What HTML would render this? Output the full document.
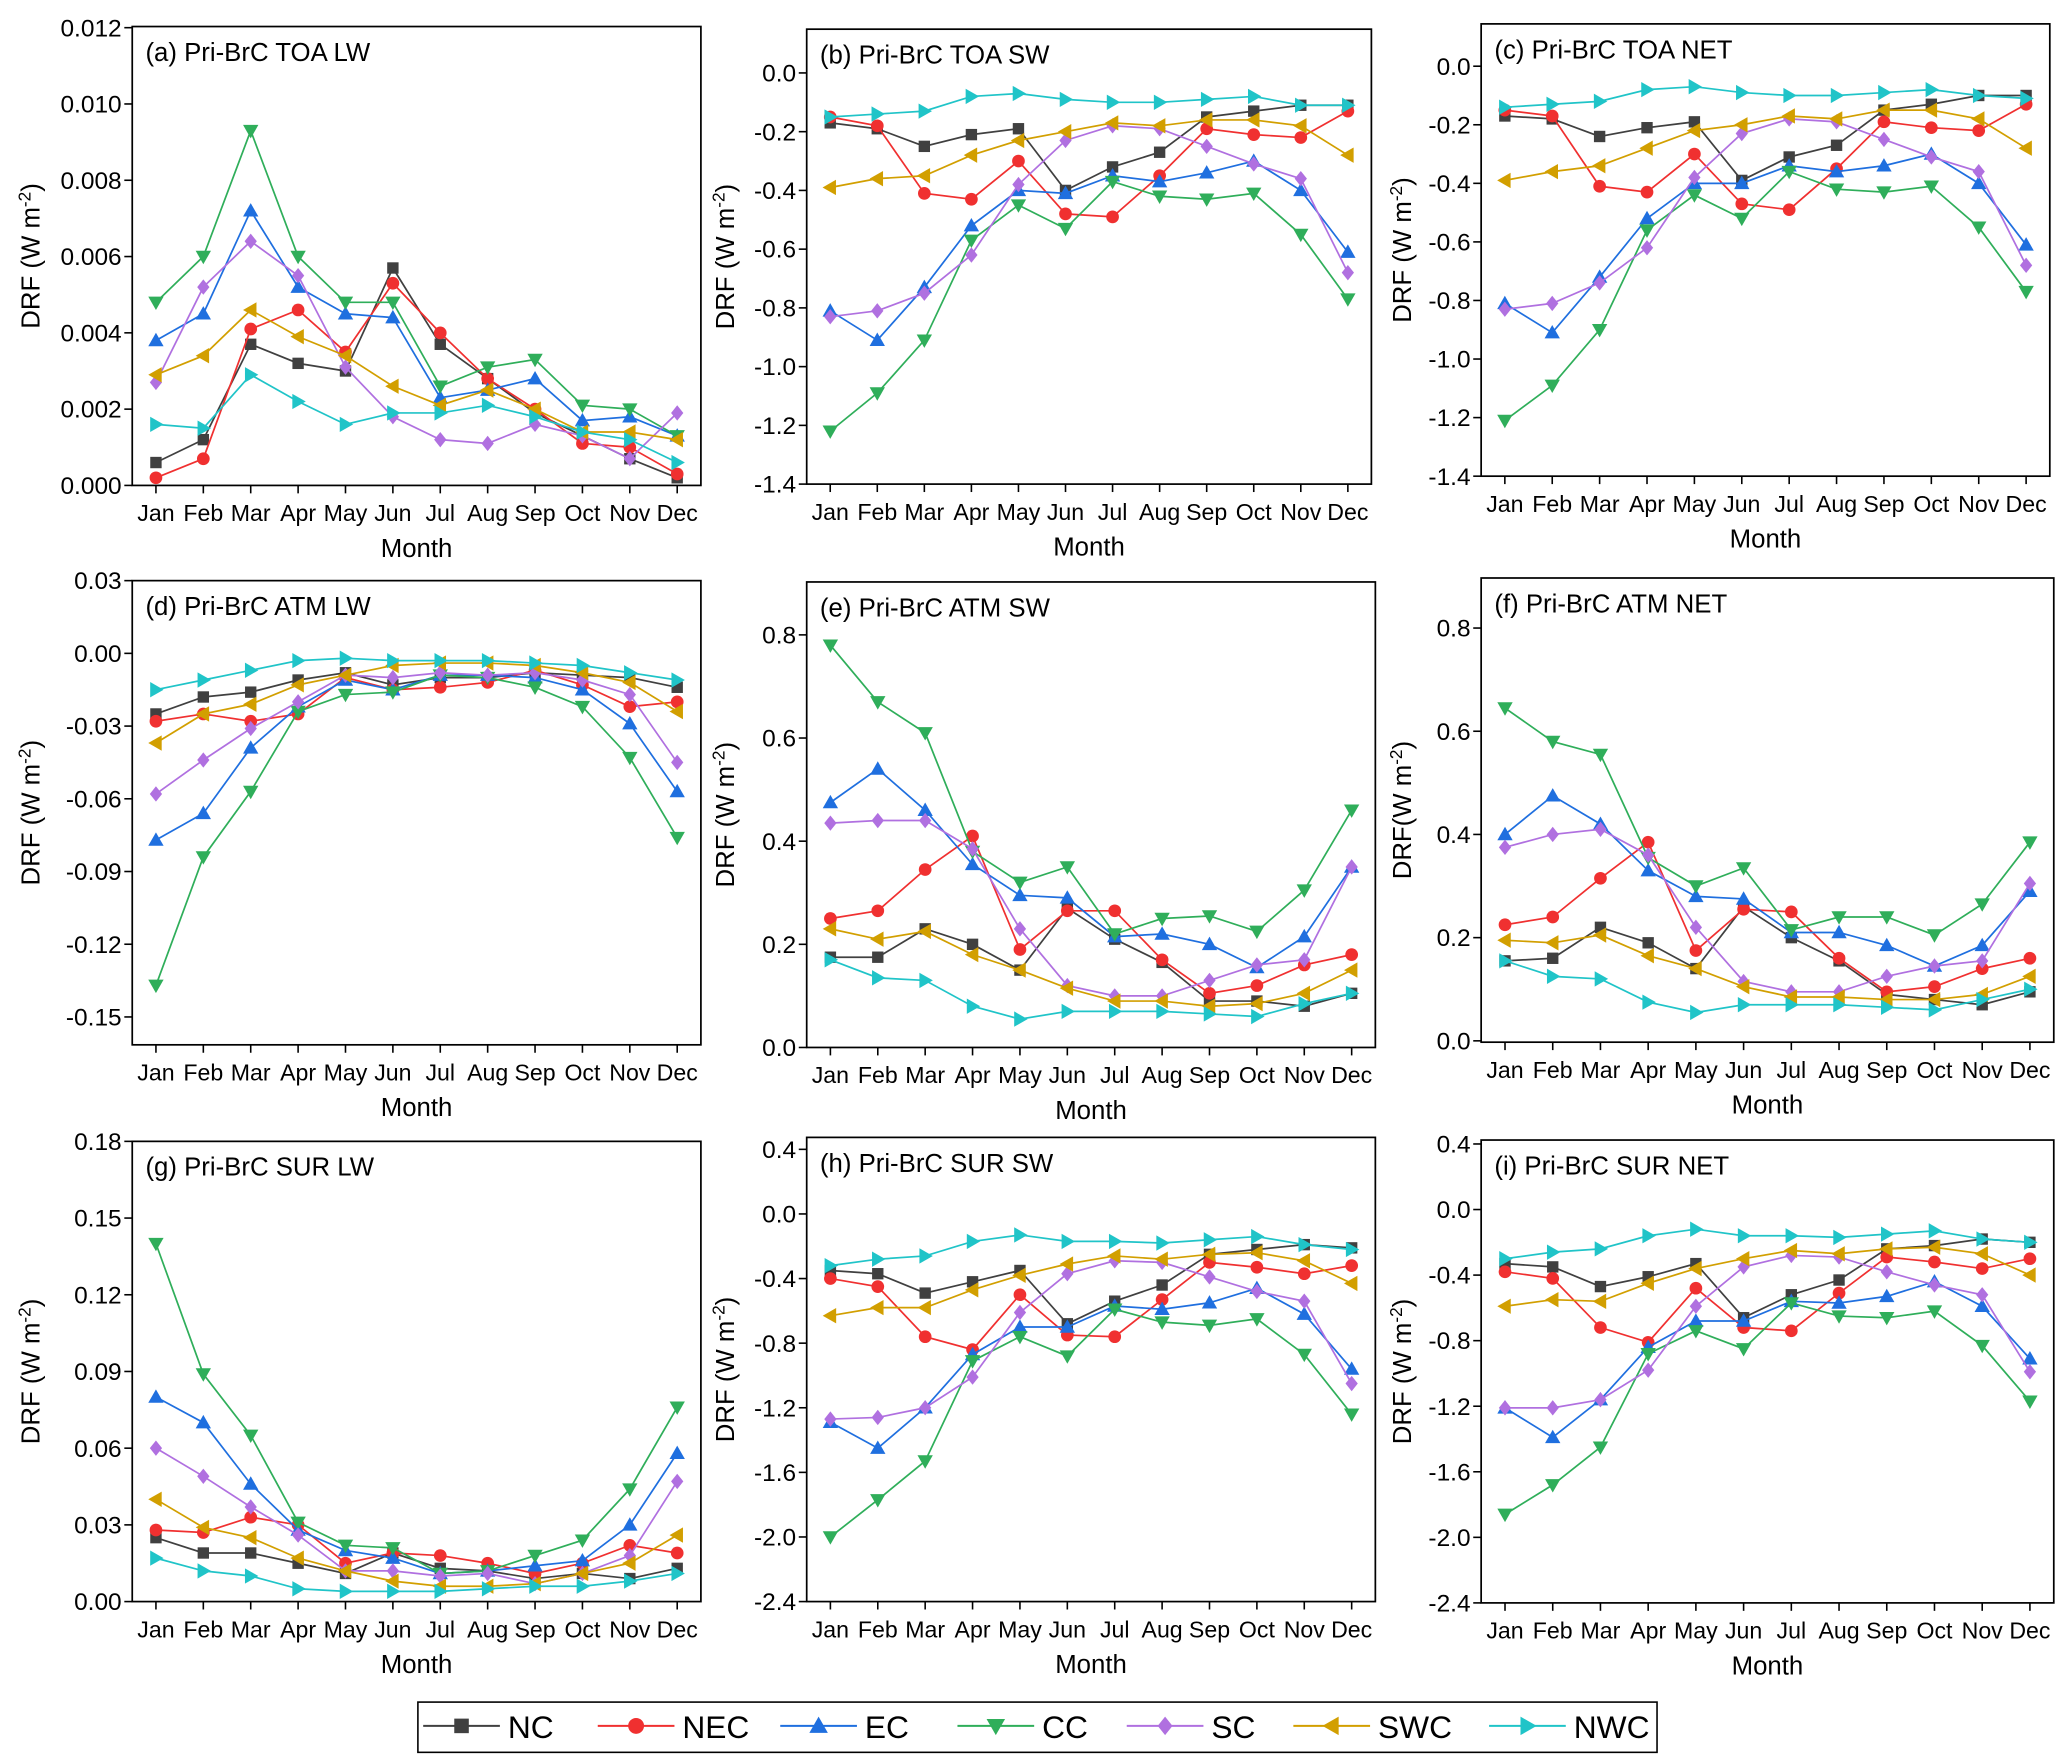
<!DOCTYPE html>
<html><head><meta charset="utf-8"><style>
html,body{margin:0;padding:0;background:#fff;}
svg{display:block;font-family:"Liberation Sans",Arial,sans-serif;}
</style></head><body>
<svg id="chart" width="2067" height="1763" viewBox="0 0 1563 1333" xmlns="http://www.w3.org/2000/svg"></svg>
<script>
const months=["Jan","Feb","Mar","Apr","May","Jun","Jul","Aug","Sep","Oct","Nov","Dec"];
const regions=["NC","NEC","EC","CC","SC","SWC","NWC"];
const colors=["#404040","#f03030","#1f6fdf","#2fae5a","#b070e0","#d29f00","#20c4c8"];
const shapes=["square","circle","up","down","diamond","left","right"];

const dataA=[[0.0006,0.0012,0.0037,0.0032,0.0030,0.0057,0.0037,0.0028,0.0019,0.0013,0.0007,0.0002],
[0.0002,0.0007,0.0041,0.0046,0.0035,0.0053,0.0040,0.0028,0.0020,0.0011,0.0010,0.0003],
[0.0038,0.0045,0.0072,0.0052,0.0045,0.0044,0.0023,0.0025,0.0028,0.0017,0.0018,0.0013],
[0.0048,0.0060,0.0093,0.0060,0.0048,0.0048,0.0026,0.0031,0.0033,0.0021,0.0020,0.0013],
[0.0027,0.0052,0.0064,0.0055,0.0031,0.0018,0.0012,0.0011,0.0016,0.0013,0.0007,0.0019],
[0.0029,0.0034,0.0046,0.0039,0.0034,0.0026,0.0021,0.0025,0.0020,0.0014,0.0014,0.0012],
[0.0016,0.0015,0.0029,0.0022,0.0016,0.0019,0.0019,0.0021,0.0018,0.0014,0.0012,0.0006]];
const dataB=[[-0.17,-0.19,-0.25,-0.21,-0.19,-0.40,-0.32,-0.27,-0.15,-0.13,-0.11,-0.11],
[-0.15,-0.18,-0.41,-0.43,-0.30,-0.48,-0.49,-0.35,-0.19,-0.21,-0.22,-0.13],
[-0.81,-0.91,-0.73,-0.52,-0.40,-0.41,-0.35,-0.37,-0.34,-0.30,-0.40,-0.61],
[-1.22,-1.09,-0.91,-0.57,-0.45,-0.53,-0.37,-0.42,-0.43,-0.41,-0.55,-0.77],
[-0.83,-0.81,-0.75,-0.62,-0.38,-0.23,-0.18,-0.19,-0.25,-0.31,-0.36,-0.68],
[-0.39,-0.36,-0.35,-0.28,-0.23,-0.20,-0.17,-0.18,-0.16,-0.16,-0.18,-0.28],
[-0.15,-0.14,-0.13,-0.08,-0.07,-0.09,-0.10,-0.10,-0.09,-0.08,-0.11,-0.11]];
const dataC=[[-0.17,-0.18,-0.24,-0.21,-0.19,-0.39,-0.31,-0.27,-0.15,-0.13,-0.10,-0.10],
[-0.15,-0.17,-0.41,-0.43,-0.30,-0.47,-0.49,-0.35,-0.19,-0.21,-0.22,-0.13],
[-0.81,-0.91,-0.72,-0.52,-0.40,-0.40,-0.34,-0.36,-0.34,-0.30,-0.40,-0.61],
[-1.21,-1.09,-0.90,-0.56,-0.44,-0.52,-0.36,-0.42,-0.43,-0.41,-0.55,-0.77],
[-0.83,-0.81,-0.74,-0.62,-0.38,-0.23,-0.18,-0.19,-0.25,-0.31,-0.36,-0.68],
[-0.39,-0.36,-0.34,-0.28,-0.22,-0.20,-0.17,-0.18,-0.15,-0.15,-0.18,-0.28],
[-0.14,-0.13,-0.12,-0.08,-0.07,-0.09,-0.10,-0.10,-0.09,-0.08,-0.10,-0.11]];
const dataD=[[-0.025,-0.018,-0.016,-0.011,-0.008,-0.013,-0.010,-0.010,-0.008,-0.009,-0.010,-0.014],
[-0.028,-0.025,-0.028,-0.025,-0.010,-0.015,-0.014,-0.012,-0.007,-0.013,-0.022,-0.020],
[-0.077,-0.066,-0.039,-0.022,-0.011,-0.015,-0.009,-0.009,-0.010,-0.015,-0.029,-0.057],
[-0.137,-0.084,-0.057,-0.024,-0.017,-0.016,-0.009,-0.010,-0.014,-0.022,-0.043,-0.076],
[-0.058,-0.044,-0.031,-0.020,-0.009,-0.010,-0.008,-0.009,-0.008,-0.011,-0.017,-0.045],
[-0.037,-0.025,-0.021,-0.013,-0.009,-0.005,-0.004,-0.004,-0.005,-0.008,-0.012,-0.024],
[-0.015,-0.011,-0.007,-0.003,-0.002,-0.003,-0.003,-0.003,-0.004,-0.005,-0.008,-0.011]];
const dataE=[[0.175,0.175,0.23,0.20,0.15,0.27,0.21,0.165,0.09,0.09,0.08,0.105],
[0.25,0.265,0.345,0.41,0.19,0.265,0.265,0.17,0.105,0.12,0.16,0.18],
[0.475,0.54,0.46,0.355,0.295,0.29,0.215,0.22,0.20,0.155,0.215,0.35],
[0.78,0.67,0.61,0.38,0.32,0.35,0.22,0.25,0.255,0.225,0.305,0.46],
[0.435,0.44,0.44,0.385,0.23,0.12,0.10,0.10,0.13,0.16,0.17,0.35],
[0.23,0.21,0.225,0.18,0.15,0.115,0.09,0.09,0.08,0.085,0.105,0.15],
[0.17,0.135,0.13,0.08,0.055,0.07,0.07,0.07,0.065,0.06,0.085,0.105]];
const dataF=[[0.155,0.16,0.22,0.19,0.14,0.26,0.20,0.155,0.09,0.08,0.07,0.095],
[0.225,0.24,0.315,0.385,0.175,0.255,0.25,0.16,0.095,0.105,0.14,0.16],
[0.40,0.475,0.42,0.33,0.28,0.275,0.21,0.21,0.185,0.145,0.185,0.29],
[0.645,0.58,0.555,0.355,0.30,0.335,0.215,0.24,0.24,0.205,0.265,0.385],
[0.375,0.40,0.41,0.36,0.22,0.115,0.095,0.095,0.125,0.145,0.155,0.305],
[0.195,0.19,0.205,0.165,0.14,0.105,0.085,0.085,0.08,0.08,0.09,0.125],
[0.155,0.125,0.12,0.075,0.055,0.07,0.07,0.07,0.065,0.06,0.08,0.10]];
const dataG=[[0.025,0.019,0.019,0.015,0.011,0.019,0.013,0.012,0.009,0.011,0.009,0.013],
[0.028,0.027,0.033,0.030,0.015,0.019,0.018,0.015,0.011,0.015,0.022,0.019],
[0.080,0.070,0.046,0.028,0.020,0.017,0.011,0.012,0.014,0.016,0.030,0.058],
[0.140,0.089,0.065,0.031,0.022,0.021,0.011,0.012,0.018,0.024,0.044,0.076],
[0.060,0.049,0.037,0.026,0.012,0.012,0.010,0.011,0.007,0.011,0.018,0.047],
[0.040,0.029,0.025,0.017,0.012,0.008,0.006,0.006,0.007,0.011,0.015,0.026],
[0.017,0.012,0.010,0.005,0.004,0.004,0.004,0.005,0.006,0.006,0.008,0.011]];
const dataH=[[-0.35,-0.37,-0.49,-0.42,-0.35,-0.68,-0.54,-0.44,-0.25,-0.22,-0.19,-0.21],
[-0.40,-0.45,-0.76,-0.84,-0.50,-0.75,-0.76,-0.53,-0.30,-0.33,-0.37,-0.32],
[-1.29,-1.45,-1.20,-0.87,-0.70,-0.70,-0.57,-0.59,-0.55,-0.46,-0.62,-0.96],
[-2.00,-1.77,-1.53,-0.91,-0.76,-0.88,-0.59,-0.67,-0.69,-0.65,-0.87,-1.24],
[-1.27,-1.26,-1.20,-1.01,-0.61,-0.37,-0.29,-0.30,-0.39,-0.48,-0.54,-1.05],
[-0.63,-0.58,-0.58,-0.47,-0.38,-0.31,-0.26,-0.28,-0.25,-0.24,-0.29,-0.43],
[-0.32,-0.28,-0.26,-0.17,-0.13,-0.17,-0.17,-0.18,-0.16,-0.14,-0.19,-0.22]];
const dataI=[[-0.33,-0.35,-0.47,-0.41,-0.33,-0.66,-0.52,-0.43,-0.24,-0.22,-0.18,-0.20],
[-0.38,-0.42,-0.72,-0.81,-0.48,-0.72,-0.74,-0.51,-0.29,-0.32,-0.36,-0.30],
[-1.21,-1.39,-1.16,-0.84,-0.68,-0.68,-0.56,-0.57,-0.53,-0.44,-0.59,-0.91],
[-1.86,-1.68,-1.45,-0.88,-0.74,-0.85,-0.57,-0.65,-0.66,-0.62,-0.83,-1.17],
[-1.21,-1.21,-1.16,-0.98,-0.59,-0.35,-0.28,-0.29,-0.38,-0.46,-0.52,-0.99],
[-0.59,-0.55,-0.56,-0.45,-0.36,-0.30,-0.25,-0.27,-0.24,-0.23,-0.27,-0.40],
[-0.30,-0.26,-0.24,-0.16,-0.12,-0.16,-0.16,-0.17,-0.15,-0.13,-0.18,-0.20]];

const ticksA=[0,0.002,0.004,0.006,0.008,0.010,0.012];
const ticksB=[0,-0.2,-0.4,-0.6,-0.8,-1.0,-1.2,-1.4];
const ticksD=[0.03,0,-0.03,-0.06,-0.09,-0.12,-0.15];
const ticksE=[0,0.2,0.4,0.6,0.8];
const ticksG=[0,0.03,0.06,0.09,0.12,0.15,0.18];
const ticksH=[0.4,0,-0.4,-0.8,-1.2,-1.6,-2.0,-2.4];

const panels=[
{id:"a",title:"(a) Pri-BrC TOA LW",L:100,R:530,T:20,B:367,ymin:0,ymax:0.01203,ticks:ticksA,dec:3,data:dataA,yl:"DRF (W m",ylx:30},
{id:"b",title:"(b) Pri-BrC TOA SW",L:610,R:1037,T:22,B:366,ymin:-1.4,ymax:0.149,ticks:ticksB,dec:1,data:dataB,yl:"DRF (W m",ylx:555},
{id:"c",title:"(c) Pri-BrC TOA NET",L:1120,R:1550,T:18,B:360,ymin:-1.4,ymax:0.1445,ticks:ticksB,dec:1,data:dataC,yl:"DRF (W m",ylx:1067},
{id:"d",title:"(d) Pri-BrC ATM LW",L:100,R:530,T:439,B:790,ymin:-0.1615,ymax:0.03,ticks:ticksD,dec:2,data:dataD,yl:"DRF (W m",ylx:30},
{id:"e",title:"(e) Pri-BrC ATM SW",L:610,R:1040,T:440,B:792,ymin:0,ymax:0.9026,ticks:ticksE,dec:1,data:dataE,yl:"DRF (W m",ylx:555},
{id:"f",title:"(f) Pri-BrC ATM NET",L:1120,R:1553,T:437,B:788,ymin:-0.0026,ymax:0.897,ticks:ticksE,dec:1,data:dataF,yl:"DRF(W m",ylx:1067},
{id:"g",title:"(g) Pri-BrC SUR LW",L:100,R:530,T:863,B:1211,ymin:0,ymax:0.18,ticks:ticksG,dec:2,data:dataG,yl:"DRF (W m",ylx:30},
{id:"h",title:"(h) Pri-BrC SUR SW",L:610,R:1040,T:860,B:1211,ymin:-2.4,ymax:0.474,ticks:ticksH,dec:1,data:dataH,yl:"DRF (W m",ylx:555},
{id:"i",title:"(i) Pri-BrC SUR NET",L:1120,R:1553,T:862,B:1212,ymin:-2.4,ymax:0.424,ticks:ticksH,dec:1,data:dataI,yl:"DRF (W m",ylx:1067}
];

const NS="http://www.w3.org/2000/svg";
const svg=document.getElementById("chart");
function mk(tag,attrs,parent){const e=document.createElementNS(NS,tag);for(const k in attrs)e.setAttribute(k,attrs[k]);(parent||svg).appendChild(e);return e;}
function marker(g,shape,x,y,c,s){
  let e;
  if(shape==="square")e=mk("rect",{x:x-s,y:y-s,width:2*s,height:2*s,fill:c},g);
  else if(shape==="circle")e=mk("circle",{cx:x,cy:y,r:s+0.5,fill:c},g);
  else{let p;const r=s+1.5;
    if(shape==="up")p=[[x,y-r],[x+r,y+r*0.75],[x-r,y+r*0.75]];
    else if(shape==="down")p=[[x,y+r],[x+r,y-r*0.75],[x-r,y-r*0.75]];
    else if(shape==="left")p=[[x-r,y],[x+r*0.75,y-r],[x+r*0.75,y+r]];
    else if(shape==="right")p=[[x+r,y],[x-r*0.75,y-r],[x-r*0.75,y+r]];
    else p=[[x,y-r],[x+r*0.8,y],[x,y+r],[x-r*0.8,y]];
    e=mk("polygon",{points:p.map(q=>q.join(",")).join(" "),fill:c},g);}
  return e;
}
panels.forEach(P=>{
  const g=mk("g",{});
  
  
  const xs=i=>P.L+(P.R-P.L)*(i+0.5)/12;
  const ys=v=>P.B-(v-P.ymin)/(P.ymax-P.ymin)*(P.B-P.T);
  P.data.forEach((arr,si)=>{
    const sg=mk("g",{},g);
    
    
    mk("polyline",{points:arr.map((v,i)=>xs(i)+","+ys(v)).join(" "),fill:"none",stroke:colors[si],"stroke-width":1.3},sg);
    arr.forEach((v,i)=>{const m=marker(sg,shapes[si],xs(i),ys(v),colors[si],4.3);
      
      });
  });
  const box=mk("rect",{x:P.L,y:P.T,width:P.R-P.L,height:P.B-P.T,fill:"none",stroke:"#000","stroke-width":1.3},g);
  
  
  P.ticks.forEach(t=>{const y=ys(t);
    mk("line",{x1:P.L-6,x2:P.L,y1:y,y2:y,stroke:"#000","stroke-width":1.2},g);
    const tx=mk("text",{x:P.L-8,y:y+6.5,"text-anchor":"end","font-size":18.5},g);
    tx.textContent=t.toFixed(P.dec);
    
    });
  months.forEach((m,i)=>{const x=xs(i);
    mk("line",{x1:x,x2:x,y1:P.B,y2:P.B+6,stroke:"#000","stroke-width":1.2},g);
    const tx=mk("text",{x:x,y:P.B+27,"text-anchor":"middle","font-size":17.5},g);
    tx.textContent=m;
    
    });
  const xt=mk("text",{x:(P.L+P.R)/2,y:P.B+54,"text-anchor":"middle","font-size":19.5},g);
  xt.textContent="Month";
  
  
  const cy=(P.T+P.B)/2;
  const yt=mk("text",{x:P.ylx,y:cy,"text-anchor":"middle","font-size":19.5,transform:"rotate(-90 "+P.ylx+" "+cy+")"},g);
  
  
  yt.textContent=P.yl;
  const sup=mk("tspan",{dy:-7,"font-size":13},yt);sup.textContent="-2";
  const cl=mk("tspan",{dy:7},yt);cl.textContent=")";
  const tt=mk("text",{x:P.L+10,y:P.T+26,"font-size":19.5},g);
  tt.textContent=P.title;
  
  
});
const lg=mk("g",{});


mk("rect",{x:316,y:1287,width:937,height:38,fill:"#fff",stroke:"#000","stroke-width":1.2},lg);
const legX=[320,452,590,724,852,978,1126];
regions.forEach((r,i)=>{
  const eg=mk("g",{},lg);
  
  
  const x=legX[i];
  mk("line",{x1:x,x2:x+58,y1:1305,y2:1305,stroke:colors[i],"stroke-width":1.5},eg);
  marker(eg,shapes[i],x+29,1305,colors[i],5.5);
  const t=mk("text",{x:x+64,y:1314,"font-size":24},eg);t.textContent=r;
});
</script>
</body></html>
